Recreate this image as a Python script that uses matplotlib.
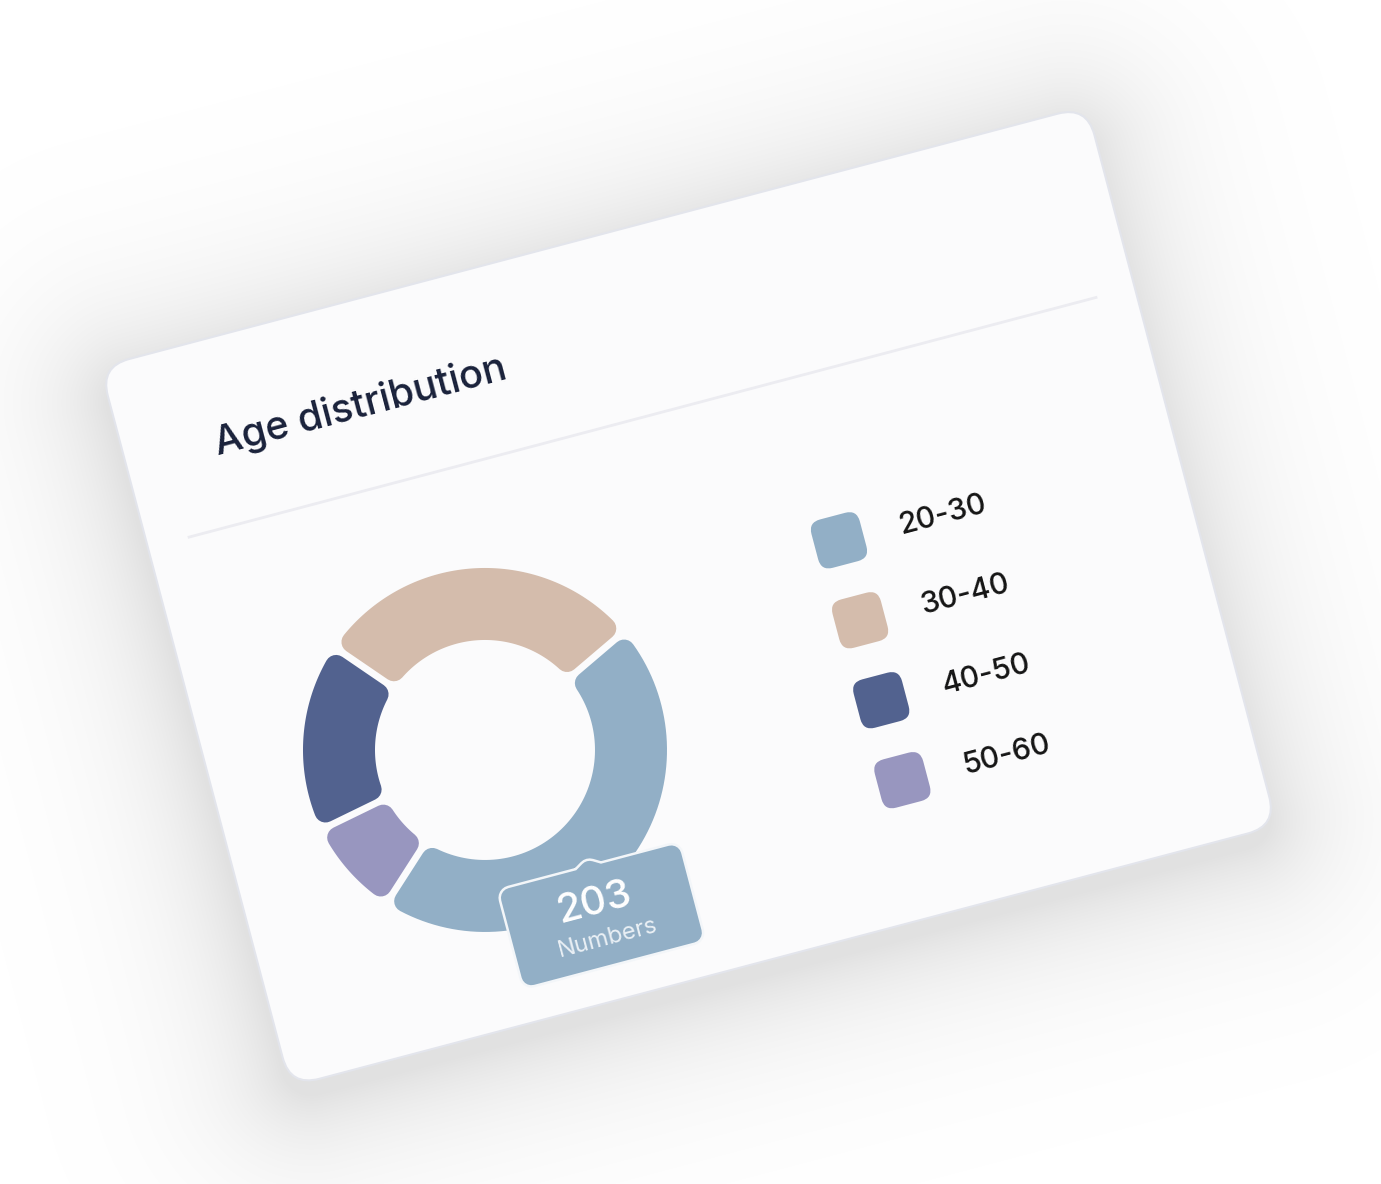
import numpy as np
import matplotlib
matplotlib.use("Agg")
import matplotlib.pyplot as plt
from matplotlib.patches import FancyBboxPatch, Polygon
from matplotlib.transforms import Affine2D

# data
title = "Age distribution"
ages = ["20-30", "30-40", "40-50", "50-60"]
counts = [203, 131, 75, 39]
colors = ["#92afc6", "#d4bcac", "#52628f", "#9896bf"]
tip_label = "Numbers"

W, H = 1381, 1184
ANGLE = 14.8                  # card tilt
CX, CY = 690, H - 593         # card centre in pixels (y up)
PT = 72 / 100                 # px -> pt at dpi 100

plt.rcParams['font.family'] = ['Inter', 'DejaVu Sans']

fig = plt.figure(figsize=(W / 100, H / 100), dpi=100)
ax = fig.add_axes([0, 0, 1, 1])
ax.axis('off')
rot = Affine2D().rotate_deg(ANGLE).translate(CX, CY) + ax.transData

# card box in local coords
x0, x1, y0, y1, rad = -512.5, 508, -375, 369.5, 30

# soft shadow
yy, xx = np.mgrid[0:H, 0:W] + 0.5
ca, sa = np.cos(np.radians(ANGLE)), np.sin(np.radians(ANGLE))
dx, dy = xx - CX, yy - (CY - 15)
lx = dx * ca + dy * sa
ly = -dx * sa + dy * ca
qx = np.abs(lx - (x0 + x1) / 2) - ((x1 - x0) / 2 - rad)
qy = np.abs(ly - (y0 + y1) / 2) - ((y1 - y0) / 2 - rad)
d = np.hypot(np.maximum(qx, 0), np.maximum(qy, 0)) + np.minimum(np.maximum(qx, qy), 0) - rad
alpha = 0.12 * np.exp(-np.clip(d, 0, None) / 70.0)
shadow = np.zeros((H, W, 4))
shadow[..., 3] = alpha
ax.imshow(shadow, extent=(0, W, 0, H), origin='lower', zorder=0, interpolation='bilinear')

card = FancyBboxPatch((x0, y0), x1 - x0, y1 - y0, boxstyle=f"round,pad=0,rounding_size={rad}",
                      fc="#fbfbfc", ec="#e3e5ec", lw=1.5, transform=rot, zorder=1)
ax.add_patch(card)

# title + divider
ax.text(-421, 254, title, transform=rot, rotation=ANGLE, rotation_mode='anchor',
        ha='left', va='baseline', fontsize=28.5, fontweight=500, color="#19213a", zorder=6)
ax.plot([-470, 468], [182, 182], transform=rot, color="#ececf1", lw=2, zorder=2)

# donut with rounded segments
dc = np.array([-238.3, -99.4])
r_out, r_in = 182, 110
gap, rc = 7, 11
start = 237.3 - ANGLE
frac = np.array(counts) / np.sum(counts)
edges = start + 360 * np.concatenate([[0], np.cumsum(frac)])


def seg_poly(a1, a2, n=80):
    s = gap / 2 + rc
    ro, ri = r_out - rc, r_in + rc
    def corner(phi, rho, sign):
        return phi + sign * np.degrees(np.arctan2(s, np.sqrt(rho ** 2 - s ** 2)))
    to = np.radians(np.linspace(corner(a1, ro, 1), corner(a2, ro, -1), n))
    ti = np.radians(np.linspace(corner(a2, ri, -1), corner(a1, ri, 1), n))
    pts = np.vstack([np.c_[ro * np.cos(to), ro * np.sin(to)],
                     np.c_[ri * np.cos(ti), ri * np.sin(ti)]])
    return pts + dc


for i in range(len(counts)):
    p = Polygon(seg_poly(edges[i], edges[i + 1]), closed=True, fc=colors[i], ec=colors[i],
                lw=2 * rc * PT, joinstyle='round', transform=rot, zorder=3)
    ax.add_patch(p)

# tooltip
tc = np.array([-168, -289])
tw, th, tr = 186, 100, 10
bx0, bx1 = tc[0] - tw / 2 + tr, tc[0] + tw / 2 - tr
by0, by1 = tc[1] - th / 2 + tr, tc[1] + th / 2 - tr
tip = [(bx0, by0), (bx1, by0), (bx1, by1), (tc[0] + 10, by1), (tc[0], by1 + 6),
       (tc[0] - 10, by1), (bx0, by1)]
ax.add_patch(Polygon(tip, closed=True, fc="#f3f6f9", ec="#f3f6f9", lw=(2 * tr + 5) * PT,
                     joinstyle='round', transform=rot, zorder=4))
ax.add_patch(Polygon(tip, closed=True, fc=colors[0], ec=colors[0], lw=2 * tr * PT,
                     joinstyle='round', transform=rot, zorder=5))
ax.text(tc[0] - 4, -275, f"{counts[0]}", transform=rot, rotation=ANGLE, rotation_mode='anchor',
        ha='center', va='center', fontsize=29, fontweight=500, color="white", zorder=6)
ax.text(tc[0], -313, tip_label, transform=rot, rotation=ANGLE, rotation_mode='anchor',
        ha='center', va='center', fontsize=17, color="#eaf0f5", zorder=6)

# legend
sq = 50
for i, lab in enumerate(ages):
    ly_i = 12.9 - 82.7 * i
    ax.add_patch(FancyBboxPatch((157.5 - sq / 2, ly_i - sq / 2), sq, sq,
                                boxstyle="round,pad=0,rounding_size=12",
                                fc=colors[i], ec='none', transform=rot, zorder=3))
    ax.text(220, ly_i - 2, lab, transform=rot, rotation=ANGLE, rotation_mode='anchor',
            ha='left', va='center', fontsize=21.5, fontweight=500, color="#151515", zorder=6)

ax.set_xlim(0, W)
ax.set_ylim(0, H)
fig.savefig("out.png", dpi=100, facecolor="white")
